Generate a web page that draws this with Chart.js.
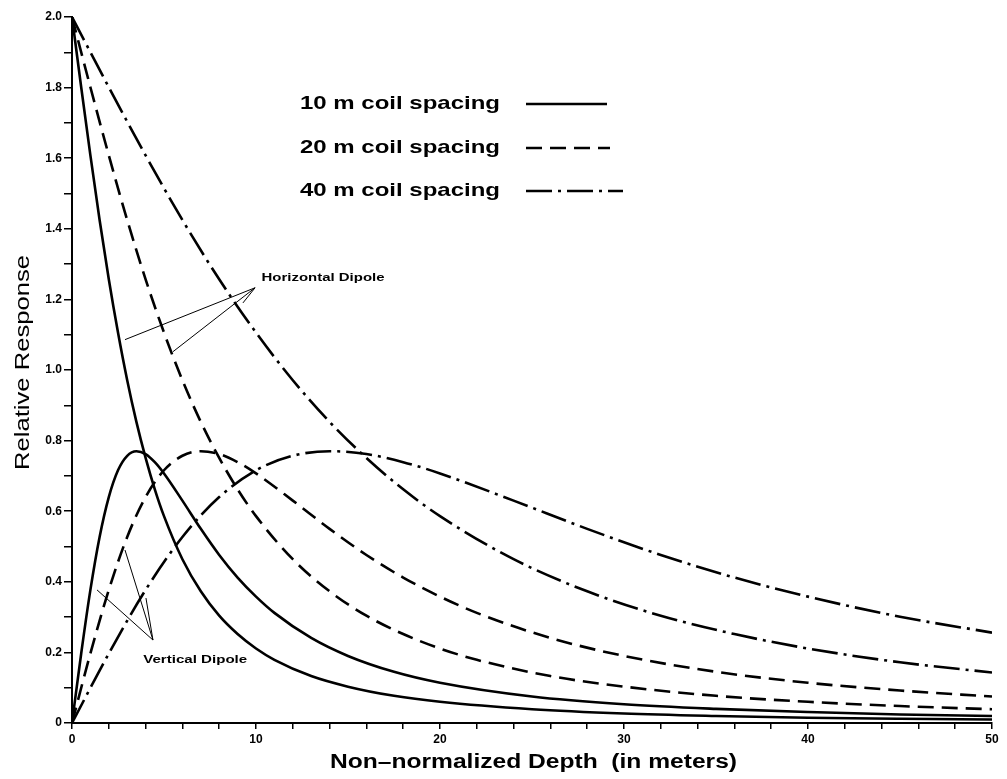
<!DOCTYPE html>
<html>
<head>
<meta charset="utf-8">
<title>Relative Response vs Depth</title>
<script src="https://cdn.jsdelivr.net/npm/chart.js@4.4.1/dist/chart.umd.min.js"></script>
<style>
  html, body { margin: 0; padding: 0; background: #fff; }
  canvas { display: block; }
</style>
</head>
<body>
<canvas id="respChart" width="1007" height="779"></canvas>
<script>
// Depths (m) where the curves were read, one list per coil spacing
const depth10 = [0, 0.5, 1, 1.5, 2, 2.5, 3, 3.5, 4, 4.5, 5, 6, 7, 8, 9, 10, 11, 13, 15, 17.5, 20, 25, 30, 35, 40, 45, 50];
const depth20 = [0, 1, 2, 3, 4, 5, 6, 7, 8, 9, 10, 12, 14, 16, 18, 20, 22, 26, 30, 35, 40, 45, 50];
const depth40 = [0, 2, 4, 6, 8, 10, 12, 14, 16, 18, 20, 24, 28, 32, 36, 40, 45, 50];

// Horizontal dipole (all start at 2.0)
const horiz10 = [2.0, 1.801, 1.608, 1.425, 1.257, 1.106, 0.971, 0.853, 0.751, 0.662, 0.586, 0.464, 0.373, 0.304, 0.252, 0.211, 0.179, 0.133, 0.103, 0.077, 0.060, 0.039, 0.027, 0.020, 0.015, 0.012, 0.010];
const horiz20 = [2.0, 1.801, 1.608, 1.425, 1.257, 1.106, 0.971, 0.853, 0.751, 0.662, 0.586, 0.464, 0.373, 0.304, 0.252, 0.211, 0.179, 0.133, 0.103, 0.077, 0.060, 0.048, 0.039];
const horiz40 = [2.0, 1.801, 1.608, 1.425, 1.257, 1.106, 0.971, 0.853, 0.751, 0.662, 0.586, 0.464, 0.373, 0.304, 0.252, 0.211, 0.172, 0.143];

// Vertical dipole (start at 0, peak ~0.77)
const vert10 = [0, 0.197, 0.377, 0.527, 0.640, 0.716, 0.757, 0.770, 0.762, 0.739, 0.707, 0.630, 0.550, 0.476, 0.412, 0.358, 0.312, 0.241, 0.190, 0.145, 0.114, 0.075, 0.053, 0.040, 0.031, 0.024, 0.020];
const vert20 = [0, 0.197, 0.377, 0.527, 0.640, 0.716, 0.757, 0.770, 0.762, 0.739, 0.707, 0.630, 0.550, 0.476, 0.412, 0.358, 0.312, 0.241, 0.190, 0.145, 0.114, 0.092, 0.075];
const vert40 = [0, 0.197, 0.377, 0.527, 0.640, 0.716, 0.757, 0.770, 0.762, 0.739, 0.707, 0.630, 0.550, 0.476, 0.412, 0.358, 0.301, 0.256];

const spacingLabels = ['10 m coil spacing', '20 m coil spacing', '40 m coil spacing'];
const xTitle = 'Non\u2013normalized Depth  (in meters)';
const yTitle = 'Relative Response';

const dashes = [[], [16, 8], [26, 6, 3, 6]];
const INK = '#000';

function toPoints(xs, ys) {
    return xs.map((x, i) => ({ x: x, y: ys[i] }));
}

function serie(label, xs, ys, dash) {
    return {
        label: label,
        data: toPoints(xs, ys),
        borderColor: INK,
        borderWidth: 2.6,
        borderDash: dash,
        pointRadius: 0,
        fill: false,
        cubicInterpolationMode: 'monotone'
    };
}

// text stretched to a given width (the original font is a wide one)
function fitText(ctx, text, x, y, width, font) {
    ctx.save();
    ctx.font = font;
    const w = ctx.measureText(text).width;
    ctx.translate(x, y);
    ctx.scale(width / w, 1);
    ctx.fillText(text, 0, 0);
    ctx.restore();
}

const extras = {
    id: 'extras',
    afterDraw(chart) {
        const ctx = chart.ctx;
        const xs = chart.scales.x, ys = chart.scales.y;
        const px = v => xs.getPixelForValue(v);
        const py = v => ys.getPixelForValue(v);
        ctx.save();
        ctx.fillStyle = INK;
        ctx.strokeStyle = INK;
        ctx.textBaseline = 'middle';
        ctx.textAlign = 'left';

        // legend, line sample after the text
        const rows = [104, 148, 191];
        const ends = [607, 610, 623];
        spacingLabels.forEach((t, i) => {
            fitText(ctx, t, 300, rows[i], 200, 'bold 19px "Liberation Sans", Arial, sans-serif');
            ctx.beginPath();
            ctx.lineWidth = 2.6;
            ctx.setLineDash(dashes[i]);
            ctx.moveTo(526, rows[i]);
            ctx.lineTo(ends[i], rows[i]);
            ctx.stroke();
        });
        ctx.setLineDash([]);

        // axis titles
        fitText(ctx, xTitle, 330, 762, 407, '600 20px "Liberation Sans", Arial, sans-serif');
        ctx.save();
        ctx.translate(23, 470);
        ctx.rotate(-Math.PI / 2);
        fitText(ctx, yTitle, 0, 0, 215, '500 20px "Liberation Sans", Arial, sans-serif');
        ctx.restore();

        // dipole pointers (data units)
        ctx.lineWidth = 1;
        const hTip = [9.95, 1.233];
        [[2.88, 1.086], [5.49, 1.052], [9.29, 1.19]].forEach(p => {
            ctx.beginPath();
            ctx.moveTo(px(p[0]), py(p[1]));
            ctx.lineTo(px(hTip[0]), py(hTip[1]));
            ctx.stroke();
        });
        fitText(ctx, 'Horizontal Dipole', px(10.3), py(1.262), 123, 'bold 11px "Liberation Sans", Arial, sans-serif');

        const vTip = [4.4, 0.235];
        [[1.36, 0.377], [2.88, 0.49], [4.02, 0.354]].forEach(p => {
            ctx.beginPath();
            ctx.moveTo(px(p[0]), py(p[1]));
            ctx.lineTo(px(vTip[0]), py(vTip[1]));
            ctx.stroke();
        });
        fitText(ctx, 'Vertical Dipole', px(3.87), py(0.178), 104, 'bold 11px "Liberation Sans", Arial, sans-serif');
        ctx.restore();
    }
};

const tickFont = { family: '"Liberation Sans", Arial, sans-serif', size: 12, weight: 'bold' };

new Chart(document.getElementById('respChart'), {
    type: 'line',
    data: {
        datasets: [
            serie('H 10', depth10, horiz10, dashes[0]),
            serie('V 10', depth10, vert10, dashes[0]),
            serie('H 20', depth20, horiz20, dashes[1]),
            serie('V 20', depth20, vert20, dashes[1]),
            serie('H 40', depth40, horiz40, dashes[2]),
            serie('V 40', depth40, vert40, dashes[2])
        ]
    },
    options: {
        responsive: false,
        animation: false,
        layout: { padding: { left: 0, top: 17, right: 15, bottom: 0 } },
        plugins: { legend: { display: false }, tooltip: { enabled: false } },
        scales: {
            x: {
                type: 'linear',
                min: 0,
                max: 50,
                afterFit: s => { s.height = 56; },
                border: { display: true, color: INK, width: 2 },
                grid: { drawOnChartArea: false, drawTicks: true, tickLength: 6, color: INK, lineWidth: 1.5 },
                ticks: {
                    stepSize: 2,
                    autoSkip: false,
                    maxRotation: 0,
                    padding: 3,
                    color: INK,
                    font: tickFont,
                    callback: v => (v % 10 === 0 ? String(v) : '')
                }
            },
            y: {
                min: 0,
                max: 2,
                afterFit: s => { s.width = 72; },
                border: { display: true, color: INK, width: 2 },
                grid: { drawOnChartArea: false, drawTicks: true, tickLength: 8, color: INK, lineWidth: 1.5 },
                ticks: {
                    stepSize: 0.1,
                    autoSkip: false,
                    padding: 2,
                    color: INK,
                    font: tickFont,
                    callback: v => {
                        const n = Math.round(v * 10);
                        if (n % 2) return '';
                        return n === 0 ? '0' : (n / 10).toFixed(1);
                    }
                }
            }
        }
    },
    plugins: [extras]
});
</script>
</body>
</html>
